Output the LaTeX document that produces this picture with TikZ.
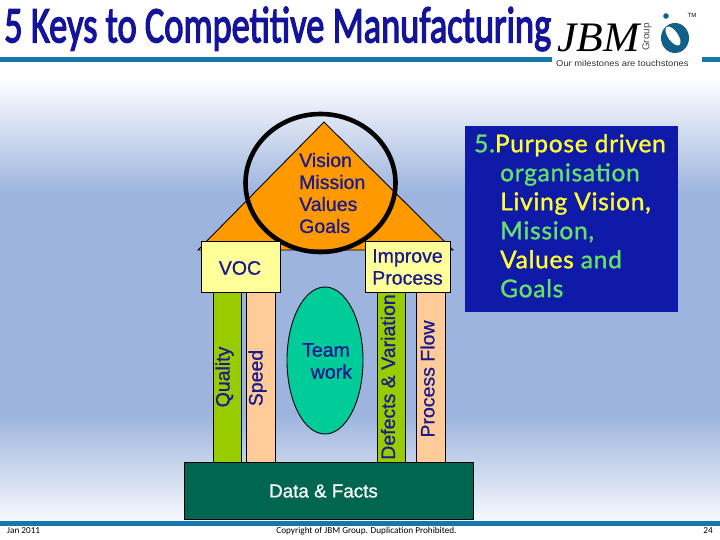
\documentclass[tikz,border=0pt]{standalone}
\usepackage{fontspec}
\usetikzlibrary{shapes.geometric}
\setmainfont{Liberation Sans}
\newfontfamily\titlefont{Carlito}[FakeBold=3]
\newfontfamily\labelfont{Liberation Sans}[FakeBold=0.8]
\newfontfamily\panelfont{Lato}[LetterSpace=3,FakeBold=1.2]
\newfontfamily\jbmfont{Liberation Serif}
\newfontfamily\footfont{Carlito}
\definecolor{titleblue}{HTML}{14149A}
\definecolor{rule}{HTML}{1478AA}
\definecolor{bgtop}{HTML}{FFFFFF}
\definecolor{bgmid}{HTML}{9DB4DE}
\definecolor{bgbot}{HTML}{F6F8FC}
\definecolor{roof}{HTML}{FF9900}
\definecolor{boxyellow}{HTML}{FFFF99}
\definecolor{green1}{HTML}{99CC00}
\definecolor{peach}{HTML}{FFCC99}
\definecolor{teamgreen}{HTML}{00CC99}
\definecolor{datagreen}{HTML}{006650}
\definecolor{navy}{HTML}{1A1A8C}
\definecolor{panel}{HTML}{0F1BA8}
\definecolor{panely}{HTML}{FFFF33}
\definecolor{panelg}{HTML}{66E066}
\pgfdeclareverticalshading{slidebg}{100bp}{color(0bp)=(bgbot); color(25bp)=(bgbot); color(37bp)=(bgmid); color(62bp)=(bgmid); color(75bp)=(bgtop); color(100bp)=(bgtop)}
\tikzset{
  x=1pt,y=-1pt,
  outlined/.style={draw=black,line width=0.9pt},
  lbl/.style={font=\labelfont\fontsize{19.5}{22}\selectfont,text=navy,align=left,inner sep=0pt},
  pillarlbl/.style={font=\labelfont\fontsize{19.5}{22}\selectfont,text=navy,rotate=90,inner sep=0pt},
  footer/.style={inner sep=0pt,font=\footfont\fontsize{9.2}{10}\selectfont}
}
\begin{document}
\begin{tikzpicture}
\useasboundingbox (0,0) rectangle (720,540);
\fill[white] (0,0) rectangle (720,540);
\shade[shading=slidebg] (0,78) rectangle (720,520.5);
\fill[rule] (0,520.5) rectangle (720,525.5);
\fill[rule] (0,57) rectangle (552,62);
\fill[rule] (702,57) rectangle (720,62);
\node[anchor=west,inner sep=0pt,text=titleblue,font=\titlefont\fontsize{40}{40}\selectfont] (title) at (4,29) {\scalebox{0.91}[1.28]{5 Keys to Competitive Manufacturing}};
\node[anchor=west,inner sep=0pt,font=\jbmfont\itshape\fontsize{42}{42}\selectfont] (jbm) at (557,38) {\scalebox{1.04}[1]{JBM}};
\node[rotate=90,inner sep=0pt,font=\fontsize{10}{10}\selectfont,text=black!70] (grp) at (647,37) {Group};
\node[anchor=west,inner sep=0pt,font=\fontsize{8.6}{9}\selectfont,text=black!80] (tag) at (556,63) {\scalebox{1.09}[1]{Our milestones are touchstones}};
\node[inner sep=0pt,font=\fontsize{6}{6}\selectfont] (tm) at (692,15) {TM};
\fill[rule!80!black] (675,38) ellipse (14 and 15);
\fill[white,rotate around={35:(673,36)}] (673,36) ellipse (5 and 11);
\fill[rule!80!black] (666,16) circle (2.8);
% house
\draw[outlined,fill=roof] (324,122) -- (453,250) -- (198,250) -- cycle;
\node[lbl,anchor=west] (vision) at (299,193) {Vision\\Mission\\Values\\Goals};
\draw[line width=4.6pt,black] (320.5,183) ellipse (75 and 69);
\foreach \a/\b/\c in {213/241/green1,246.5/275.5/peach,377.5/405/green1,416/445/peach}
  \draw[outlined,fill=\c] (\a,292) rectangle (\b,462);
\node[outlined,fill=boxyellow,minimum width=79pt,minimum height=51pt,inner sep=0pt,anchor=north west] (voc) at (201,241) {};
\node[lbl] (voct) at (240,268) {VOC};
\node[outlined,fill=boxyellow,minimum width=85pt,minimum height=51pt,inner sep=0pt,anchor=north west] (imp) at (365,241) {};
\node[lbl,align=center] (impt) at (407.5,267) {Improve\\Process};
\node[outlined,fill=teamgreen,ellipse,minimum width=76pt,minimum height=147pt,inner sep=0pt] (teamshape) at (325,360.5) {};
\node[lbl,align=center] (team) at (326,361) {Team\\\ \ work};
\node[pillarlbl] (quality) at (224.5,377) {Quality};
\node[pillarlbl] (speed) at (257.5,378) {Speed};
\node[pillarlbl] (defects) at (388,377) {Defects \& Variation};
\node[pillarlbl] (flow) at (427.5,379) {Process Flow};
\node[outlined,fill=datagreen,minimum width=289pt,minimum height=57pt,inner sep=0pt,anchor=north west] (database) at (184,462) {};
\node[lbl,text=white,font=\labelfont\fontsize{18.8}{22}\selectfont] (data) at (323.5,491) {Data \& Facts};
% panel
\fill[panel] (465,126) rectangle (678,312);
\node[anchor=north west,inner sep=0pt,font=\panelfont\fontsize{24.5}{29}\selectfont,align=left] (purpose) at (474,134) {\textcolor{panelg}{5.}\textcolor{panely}{Purpose driven}\\\hspace{26pt}\textcolor{panelg}{organisation}\\\hspace{26pt}\textcolor{panely}{Living Vision,}\\\hspace{26pt}\textcolor{panelg}{Mission,}\\\hspace{26pt}\textcolor{panely}{Values} \textcolor{panelg}{and}\\\hspace{26pt}\textcolor{panelg}{Goals}};
% footer
\node[footer,anchor=west] (date) at (7,531) {Jan 2011};
\node[footer] (copy) at (366.5,531) {Copyright of JBM Group. Duplication Prohibited.};
\node[footer] (pg) at (708,531) {24};
\end{tikzpicture}
\end{document}
